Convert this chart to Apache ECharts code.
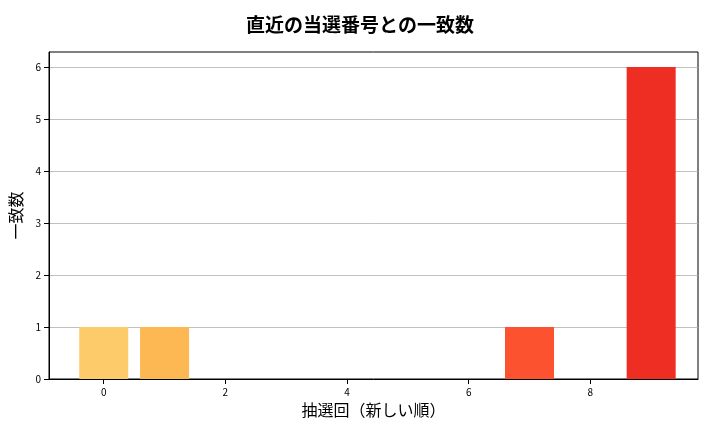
<!DOCTYPE html>
<html><head><meta charset="utf-8">
<script src="https://cdn.jsdelivr.net/npm/echarts@6/dist/echarts.min.js"></script>
<style>html,body{margin:0;padding:0;background:#fff}#c{width:720px;height:432px}</style>
</head><body><div id="c"></div>
<script>
const draws = [0,1,2,3,4,5,6,7,8,9];
const matches = [1,1,0,0,0,0,0,1,0,6];
const colors = ['#fecb6a','#feb853','#fea145','#fd8d3c','#fd7435','#fc5b2e','#f54a28','#fc5230','#e83a25','#ee2e22'];
const xTicks = [0,2,4,6,8];
const yTicks = [0,1,2,3,4,5,6];
const chart = echarts.init(document.getElementById('c'));
const font = '"Noto Sans CJK JP", sans-serif';
chart.setOption({
  animation:false,
  title:{text:'直近の当選番号との一致数',left:'center',top:10,textStyle:{fontFamily:font,fontSize:19,fontWeight:'bold',color:'#000'}},
  grid:{left:47,right:22,top:52,bottom:53,show:true,borderColor:'#000',borderWidth:1,backgroundColor:'transparent'},
  xAxis:{type:'value',min:-0.9,max:9.77,name:'抽選回（新しい順）',nameLocation:'middle',nameGap:22,
    nameTextStyle:{fontFamily:font,fontSize:16,color:'#000'},
    axisLine:{show:true,onZero:false,lineStyle:{color:'#000'}},splitLine:{show:false},
    axisTick:{show:true,customValues:xTicks,lineStyle:{color:'#000'}},
    axisLabel:{customValues:xTicks,fontSize:10,color:'#000',fontFamily:font}},
  yAxis:{type:'value',min:0,max:6.29,name:'一致数',nameLocation:'middle',nameGap:25,
    nameTextStyle:{fontFamily:font,fontSize:16,color:'#000'},
    axisLine:{show:true,onZero:false,lineStyle:{color:'#000'}},
    splitLine:{show:true,lineStyle:{color:'#b0b0b0',width:0.8}},
    axisTick:{show:true,customValues:yTicks,lineStyle:{color:'#000'}},
    axisLabel:{customValues:yTicks,fontSize:10,color:'#000',fontFamily:font}},
  series:[{type:'bar',barWidth:49,
    data:draws.map((d,i)=>({value:[d,matches[i]],itemStyle:{color:colors[i]}}))}]
});
</script></body></html>
